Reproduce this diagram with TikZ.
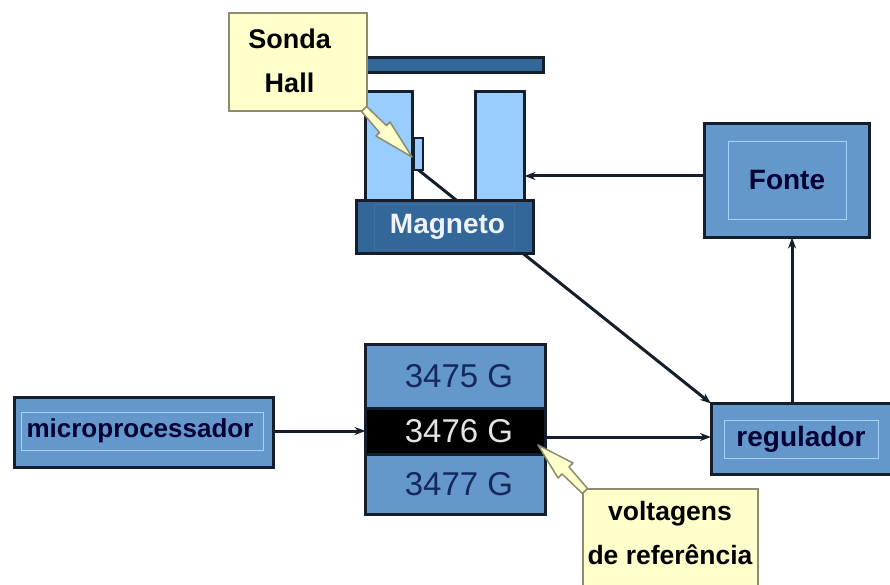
\documentclass[tikz,border=0pt]{standalone}
\usepackage{fontspec}
\setmainfont{Liberation Sans}
\usetikzlibrary{arrows.meta, positioning, calc, backgrounds}

\definecolor{boxblue}{HTML}{6498CC}
\definecolor{poleblue}{HTML}{99CCFF}
\definecolor{magblue}{HTML}{336699}
\definecolor{edgedark}{HTML}{141F2B}
\definecolor{framelight}{HTML}{A6D4F7}
\definecolor{inkdark}{HTML}{000033}
\definecolor{notefill}{HTML}{FFFFCC}
\definecolor{noteedge}{HTML}{8C8C6E}

\begin{document}
\begin{tikzpicture}[
    x=1pt, y=-1pt,
    >={Stealth[length=11pt,width=8pt]},
    % Blue Block Style
    block/.style={draw=edgedark, fill=boxblue, line width=3pt, rectangle, inner sep=0pt, outer sep=0pt},
    % Inner Frame Style
    frame/.style={draw=framelight, line width=1pt, rectangle, inner sep=0pt, outer sep=0pt, text=inkdark, font=\fontsize{28}{30}\selectfont\bfseries},
    % Magnet Parts Style
    pole/.style={draw=edgedark, fill=poleblue, line width=3pt, rectangle, inner sep=0pt, outer sep=0pt},
    % Reference Voltage Band Style
    band/.style={block, minimum width=180pt, text=magblue!40!inkdark, font=\fontsize{33}{35}\selectfont, execute at begin node={\hspace*{7pt}}},
    % Yellow Note Style
    note/.style={draw=noteedge, fill=notefill, line width=2pt, rectangle, inner sep=0pt, outer sep=0pt},
    notetext/.style={align=center, text=black, inner sep=0pt, font=\fontsize{27}{44}\selectfont\bfseries},
    % Note Pointer Style
    pointer/.style={draw=noteedge, fill=notefill, line width=1.5pt, line join=round},
    link/.style={draw=edgedark, line width=3pt}
]
\useasboundingbox (0,0) rectangle (890,585);

% ================= Nodes =================

% 1. Lower Row
\node[block, minimum width=259pt, minimum height=70pt] (micro) at (144,432) {};
\node[frame, minimum width=242pt, minimum height=38pt, font=\fontsize{26}{28}\selectfont\bfseries] (micro_txt) at (142,431) {\hspace*{-4pt}microprocessador};
\node[band, minimum height=46pt, fill=black, text=white!90!black, right=92pt of micro, yshift=1pt] (g3476) {3476 G};
\node[band, minimum height=64pt, above=0pt of g3476] (g3475) {3475 G};
\node[band, minimum height=60pt, below=0pt of g3476] (g3477) {3477 G};
\node[block, minimum width=182pt, minimum height=71pt] (reg) at (802,439) {};
\node[frame, minimum width=154pt, minimum height=38pt] (reg_txt) at (801,439) {regulador};

% 2. Power Supply
\node[block, minimum width=165pt, minimum height=114pt] (fonte) at (787,180.5) {};
\node[frame, minimum width=118pt, minimum height=77pt] (fonte_txt) at (fonte) {Fonte};

% 3. Magnet
\node[block, fill=magblue, minimum width=177pt, minimum height=52pt] (magneto) at (444.5,227) {};
\node[frame, draw=magblue!93!white, minimum width=140pt, minimum height=44pt, text=white!92!magblue] (magneto_txt) at (magneto) {\hspace*{6pt}Magneto};
\node[pole, minimum width=47pt, minimum height=109pt, above left=0pt and 32pt of magneto.north] (pole_l) {};
\node[pole, minimum width=49pt, minimum height=109pt, above right=0pt and 31pt of magneto.north] (pole_r) {};
\node[pole, fill=magblue, minimum width=184pt, minimum height=15pt] (bar) at (451,65) {};
\node[pole, line width=1.5pt, minimum width=9pt, minimum height=32pt] (probe) at (418.5,154) {};

% 4. Notes
\node[note, minimum width=138pt, minimum height=98pt] (sonda) at (297.5,62.5) {};
\node[notetext, xshift=-8pt, yshift=2pt] (sonda_txt) at (sonda) {Sonda\\Hall};
\node[note, minimum width=175pt, minimum height=100pt, anchor=north west] (volt) at (582.5,488.5) {};
\node[notetext, font=\fontsize{26.5}{44}\selectfont\bfseries, yshift=5pt] (volt_txt) at (volt) {voltagens\\de referência};

% ================= Connections =================

\begin{scope}[on background layer]
\draw[->, link] (probe.south) -- (reg.north west);
\end{scope}
\draw[->, link] (micro.east |- micro_txt) -- (g3476.west |- micro_txt);
\draw[->, link] (g3476.east |- 0,437) -- (reg.west |- 0,437);
\draw[->, link] (reg.north -| 792,0) -- (fonte.south -| 792,0);
\draw[->, link] (fonte.west |- 0,176) -- (pole_r.east |- 0,176);

% Note Pointers
\draw[pointer] ($(sonda.south east)+(-5,0)$) -- (379.5,132.5) -- (376,136) -- (412,157) -- (390,122) -- (386.5,125.5) -- ($(sonda.south east)+(0,-5)$) -- cycle;
\draw[pointer] ($(volt.north west)+(5,0)$) -- (569,467) -- (573,463) -- (538,445) -- (558,478) -- (562,474) -- ($(volt.north west)+(0,5)$) -- cycle;

\end{tikzpicture}
\end{document}
